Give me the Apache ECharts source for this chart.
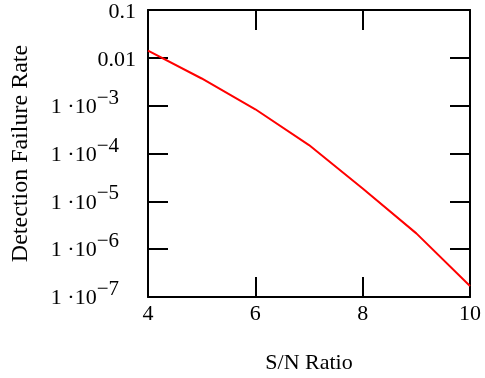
<!DOCTYPE html>
<html>
<head>
<meta charset="utf-8">
<script src="https://cdn.jsdelivr.net/npm/echarts@6/dist/echarts.min.js"></script>
<style>
  html, body { margin: 0; padding: 0; background: #fff; }
  #chart { width: 485px; height: 378px; }
</style>
</head>
<body>
<div id="chart"></div>
<script>
// S/N 比 与 检测失败率
const snRatio = [4, 5, 6, 7, 8, 9, 10]
const failureRate = [0.0141, 3.7e-3, 8.4e-4, 1.5e-4, 1.86e-5, 2.14e-6, 1.7e-7]

const FONT = "'Liberation Serif', 'Times New Roman', serif"

const chart = echarts.init(document.getElementById('chart'))

const tick = {
  show: true,
  inside: true,
  length: 20,
  lineStyle: { color: '#000', width: 2 }
}
const line = { show: true, lineStyle: { color: '#000', width: 2 } }

const formatY = (value) => {
  const exp = Math.round(Math.log10(value))
  if (exp >= -2) return '{p|' + (exp === -1 ? '0.1' : '0.01') + '}'
  return '{b|1 \u00b710}{s|\u2212' + (-exp) + '}'
}

const option = {
  animation: false,
  grid: { left: 148, right: 15, top: 10, bottom: 81, containLabel: false, outerBoundsMode: 'none' },
  xAxis: [
    {
      type: 'value',
      min: 4,
      max: 10,
      interval: 2,
      position: 'bottom',
      axisLine: line,
      axisTick: tick,
      splitLine: { show: false },
      axisLabel: { color: '#000', fontFamily: FONT, fontSize: 22, margin: 6 },
      name: 'S/N Ratio',
      nameLocation: 'middle',
      nameGap: 55,
      nameTextStyle: { color: '#000', fontFamily: FONT, fontSize: 22 }
    },
    {
      type: 'value',
      min: 4,
      max: 10,
      interval: 2,
      position: 'top',
      axisLine: line,
      axisTick: tick,
      splitLine: { show: false },
      axisLabel: { show: false }
    }
  ],
  yAxis: [
    {
      type: 'log',
      logBase: 10,
      min: 1e-7,
      max: 0.1,
      position: 'left',
      axisLine: line,
      axisTick: tick,
      minorTick: { show: false },
      splitLine: { show: false },
      axisLabel: {
        color: '#000',
        fontFamily: FONT,
        fontSize: 22,
        margin: 12,
        formatter: formatY,
        rich: {
          p: { fontFamily: FONT, fontSize: 22, color: '#000', lineHeight: 22, padding: [5, 0, 0, 0] },
          b: { fontFamily: FONT, fontSize: 22, color: '#000', lineHeight: 22, verticalAlign: 'middle', padding: [3, 0, 0, 0] },
          s: { fontFamily: FONT, fontSize: 21, color: '#000', lineHeight: 21, verticalAlign: 'middle', padding: [0, 17, 15, 0] }
        }
      },
      name: 'Detection Failure Rate',
      nameLocation: 'middle',
      nameGap: 115,
      nameTextStyle: { color: '#000', fontFamily: FONT, fontSize: 24 }
    },
    {
      type: 'log',
      logBase: 10,
      min: 1e-7,
      max: 0.1,
      position: 'right',
      axisLine: line,
      axisTick: tick,
      minorTick: { show: false },
      splitLine: { show: false },
      axisLabel: { show: false }
    }
  ],
  series: [
    {
      type: 'line',
      xAxisIndex: 0,
      yAxisIndex: 0,
      data: snRatio.map((x, i) => [x, failureRate[i]]),
      symbol: 'none',
      smooth: false,
      lineStyle: { color: '#ff0000', width: 2 }
    }
  ]
}

chart.setOption(option)
</script>
</body>
</html>
